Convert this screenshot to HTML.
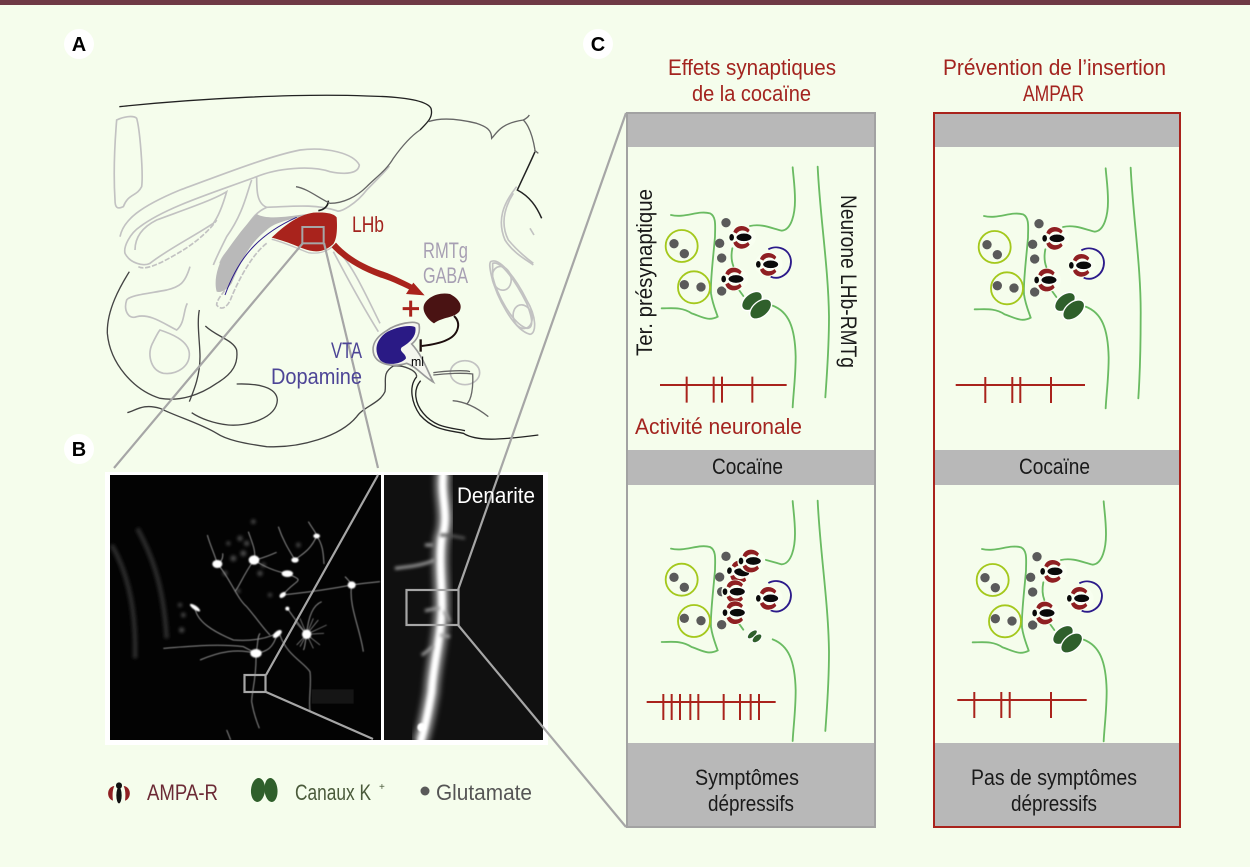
<!DOCTYPE html>
<html><head><meta charset="utf-8"><style>
html,body{margin:0;padding:0;background:#f5fdec;width:1250px;height:867px;overflow:hidden}
svg{display:block}
text{font-family:"Liberation Sans",sans-serif}
</style></head><body>
<svg width="1250" height="867" viewBox="0 0 1250 867" xmlns="http://www.w3.org/2000/svg">
<defs>
<filter id="b0" x="-20%" y="-20%" width="140%" height="140%"><feGaussianBlur stdDeviation="1.3"/></filter>
<filter id="b1" x="-50%" y="-50%" width="200%" height="200%"><feGaussianBlur stdDeviation="2.5"/></filter>
<filter id="b2" x="-30%" y="-30%" width="160%" height="160%"><feGaussianBlur stdDeviation="5"/></filter>
<filter id="b3" x="-30%" y="-10%" width="160%" height="120%"><feGaussianBlur stdDeviation="9"/></filter>
<clipPath id="cl"><rect x="110" y="475" width="271" height="265"/></clipPath>
<clipPath id="cr"><rect x="384" y="475" width="159" height="265"/></clipPath>
<g id="ampa">
 <ellipse cx="-6" cy="0" rx="42" ry="36" fill="#f8fff0"/>
 <path d="M-32,-16C-26,-38 4,-40 17,-22L12,-14C2,-23-14,-23-22,-11Z" fill="#8f1f22"/>
 <path d="M-32,16C-26,38 4,40 17,22L12,14C2,23-14,23-22,11Z" fill="#8f1f22"/>
 <ellipse cx="0" cy="0" rx="24" ry="13" fill="#0a0a0a" stroke="#fff" stroke-width="3"/>
 <ellipse cx="-37" cy="0" rx="7" ry="10" fill="#0a0a0a"/>
</g>
<g id="k">
 <ellipse cx="0" cy="0" rx="36" ry="22" transform="rotate(-40)" fill="#2f5f2b" stroke="#fff" stroke-width="4"/>
 <ellipse cx="26" cy="24" rx="38" ry="23" transform="rotate(-40 26 24)" fill="#2f5f2b" stroke="#fff" stroke-width="4"/>
</g>
<g id="syn" fill="none">
 <g stroke="#6abb62" stroke-width="5.500" stroke-linecap="round">
 <path d="M138,195C180,205 220,180 255,190C275,200 270,230 270,260C265,320 255,400 258,430C262,460 275,490 278,500C250,515 230,500 200,490C170,470 140,475 110,475"/>
 <path d="M375,228C410,220 440,235 470,242C500,240 510,190 510,150C510,110 505,80 503,52"/>
 <path d="M322,295C318,315 320,335 325,348"/>
 <path d="M342,420L355,438"/>
 <path d="M443,467C490,485 510,530 512,620C512,680 505,730 503,772"/>
 </g>
 <circle cx="170" cy="288" r="48" stroke="#a4c81c" stroke-width="5.500"/>
 <circle cx="207" cy="412" r="48" stroke="#a4c81c" stroke-width="5.500"/>
 <g fill="#5a5a5a">
 <circle cx="147" cy="281" r="14"/><circle cx="178" cy="311" r="14"/>
 <circle cx="178" cy="404" r="14"/><circle cx="228" cy="411" r="14"/>
 <circle cx="303" cy="218" r="14"/><circle cx="284" cy="280" r="14"/>
 <circle cx="290" cy="324" r="14"/><circle cx="290" cy="423" r="14"/>
 </g>
 <path d="M430,298C460,282 497,300 498,335C497,370 465,392 437,380" stroke="#2b1a8a" stroke-width="5.500"/>
</g>
</defs>

<rect width="1250" height="867" fill="#f5fdec"/>
<rect width="1250" height="5" fill="#6f3a45"/>

<!-- A diagram -->
<g transform="translate(100,90) scale(.33333)" fill="none">
 <g stroke="#c2c2c2" stroke-width="5">
 <path d="M50,90C70,80 100,75 110,85C120,120 130,250 125,290C110,320 85,310 70,350C50,360 45,350 45,330C40,250 45,150 50,90Z"/>
 <path d="M60,440C70,390 120,350 240,300C350,260 500,200 600,180C680,170 760,190 778,225C775,250 740,255 690,245C630,225 530,235 470,260C350,305 200,350 120,410C90,430 70,470 75,490C90,520 130,530 150,520C200,480 280,440 340,400C355,380 370,340 380,305C340,330 250,360 170,390C130,410 105,440 105,480"/>
 <path d="M470,260C470,300 470,340 500,352C470,365 460,380 425,430C400,470 370,490 360,520"/>
 <path d="M455,270C440,310 430,370 380,440C365,470 350,500 340,525"/>
 <path d="M500,352C570,350 640,340 710,362C720,370 770,340 800,300C830,270 860,240 868,228"/>
 <path d="M115,530C140,545 200,510 250,480C290,455 330,420 350,390" stroke-dasharray="16 5"/>
 <path d="M500,460C460,490 420,560 395,620C385,650 365,665 350,645C350,630 365,615 375,600" stroke-dasharray="16 5"/>
 <path d="M270,530C255,580 240,590 200,600C150,610 90,615 80,630C70,660 85,690 110,680C150,670 190,700 230,720C255,700 250,660 262,640"/>
 <path d="M180,720C210,730 265,750 268,790C270,830 230,855 190,850C150,840 140,790 160,755C170,735 175,725 180,720Z"/>
 <path d="M700,485C730,540 770,620 835,725"/>
 <path d="M720,490C760,530 800,620 840,700"/>
 <path d="M1250,290C1210,340 1190,390 1215,450C1240,490 1280,510 1300,525"/>
 <path d="M1240,310C1215,350 1200,400 1225,450C1250,480 1280,505 1300,520"/>
 <path d="M1172,515C1200,500 1250,570 1280,630C1310,680 1310,730 1290,733C1240,720 1190,620 1175,560C1168,530 1168,520 1172,515Z"/>
 <path d="M1178,520C1205,510 1250,580 1280,640C1300,690 1300,715 1280,715C1235,700 1190,610 1178,560Z"/>
 <ellipse cx="1205" cy="565" rx="28" ry="36" transform="rotate(-15 1205 565)"/>
 <ellipse cx="1268" cy="680" rx="28" ry="36" transform="rotate(-15 1268 680)"/>
 <path d="M1290,415L1302,435"/>
 <ellipse cx="1095" cy="848" rx="44" ry="36"/>
 </g>
 <path d="M470,372C500,390 560,380 620,372L600,382C560,390 520,400 500,420C450,460 430,500 395,580C385,595 365,610 350,605C340,570 355,520 375,490C410,440 440,400 470,372Z" fill="#b9b9b9"/>
 <g stroke="#444" stroke-width="4">
 <path d="M88,545C60,590 20,660 22,730C30,820 100,900 180,925C240,935 300,915 350,880C400,850 415,820 410,780C400,750 350,740 316,708"/>
 <path d="M298,660C290,700 300,760 300,800C300,860 280,905 268,935"/>
 <path d="M410,882C470,880 530,890 532,930C530,985 440,1010 385,1005C340,1000 300,985 275,968"/>
 <path d="M82,968C110,960 130,940 180,955C230,980 300,1000 350,1030C380,1050 430,1060 500,1070C600,1075 720,1040 770,980C790,950 840,940 855,905C860,870 845,850 880,828C910,825 950,840 950,860"/>
 </g>
 <g stroke="#222" stroke-width="4">
 <path d="M58,50C300,25 600,10 800,18C900,20 980,30 993,55C1000,80 985,95 960,120"/>
 <path d="M1305,185C1290,220 1270,260 1252,300C1290,320 1310,350 1325,385" stroke-width="4.500"/>
 <path d="M685,332C685,350 670,360 655,362" stroke-width="5"/>
 <path d="M950,860C925,890 935,940 960,975C1000,1020 1040,1020 1090,1030C1130,1055 1200,1050 1315,1035"/>
 <path d="M962,872C938,900 945,940 970,970C1005,1012 1045,1012 1095,1022"/>
 </g>
 <g stroke="#666" stroke-width="4">
 <path d="M960,120C930,140 905,170 880,205C860,240 830,260 800,290C770,320 730,340 690,340C650,320 620,295 588,290"/>
 <path d="M985,95C1030,80 1090,90 1130,100C1160,110 1175,120 1175,145C1190,130 1200,100 1270,90C1280,85 1285,80 1288,75M1270,90C1290,110 1300,150 1305,180M1303,180L1315,190"/>
 <path d="M1000,855C1040,850 1090,848 1118,852C1120,890 1115,930 1100,942M1000,848C1040,842 1100,840 1110,845M1058,932C1100,935 1140,960 1165,980"/>
 </g>
 <path d="M375,615C410,520 460,440 590,382" stroke="#2b1a8a" stroke-width="3"/>
 <path d="M515,443C545,415 590,375 640,368C670,366 700,368 710,382C712,410 712,445 700,462C680,480 660,488 630,482C600,475 580,460 515,443Z" fill="#a9231c"/>
 <path d="M515,448C550,456 590,475 625,488C650,492 680,488 703,465" stroke="#c4c4c4" stroke-width="4"/>
 <path d="M695,472L708,458C740,495 790,525 850,545C885,558 920,575 950,592L943,606C910,590 880,575 840,562C780,540 730,510 695,472Z" fill="#a9231c"/>
 <path d="M940,578L974,616L918,612Z" fill="#a9231c"/>
 <path d="M908,656H957M932,632V680" stroke="#a9231c" stroke-width="9"/>
 <path d="M972,645C980,625 1010,605 1050,612C1075,625 1090,645 1078,665C1060,685 1030,680 1002,700C985,690 965,665 972,645Z" fill="#4a1313"/>
 <path d="M1062,678C1085,700 1075,735 1040,750C1020,760 990,765 965,768" stroke="#1d0d0d" stroke-width="6"/>
 <path d="M962,748V785" stroke="#1d0d0d" stroke-width="7"/>
 <path d="M860,722C890,700 945,690 957,703C962,730 950,750 935,762C970,800 985,850 1000,876C970,860 950,830 920,820C880,832 835,825 822,795C812,765 830,740 860,722Z" fill="#f4f6ee" stroke="#999" stroke-width="5"/>
 <path d="M855,730C880,712 935,702 946,712C950,735 935,755 905,772C895,785 918,790 918,805C905,822 860,830 840,810C820,780 830,750 855,730Z" fill="#2a1a85"/>
 <rect x="607" y="411" width="64" height="49" stroke="#a6a6a6" stroke-width="6"/>
</g>

<!-- B image -->
<rect x="105" y="472" width="443" height="273" fill="#fff"/>
<rect x="110" y="475" width="271" height="265" fill="#030303"/>
<rect x="384" y="475" width="159" height="265" fill="#101010"/>
<g clip-path="url(#cl)"><g transform="translate(100,465) scale(.33333)" fill="none">
 <g stroke="#2c2c2c" stroke-width="14" filter="url(#b2)"><path d="M35,240C70,300 110,400 105,580"/><path d="M112,190C150,260 190,350 200,520"/></g>
 <g fill="#4a4a4a" filter="url(#b2)"><circle cx="430" cy="265" r="9"/><circle cx="400" cy="280" r="9"/><circle cx="420" cy="220" r="8"/><circle cx="480" cy="325" r="8"/><circle cx="460" cy="170" r="7"/><circle cx="595" cy="240" r="7"/><circle cx="385" cy="235" r="6"/><circle cx="250" cy="450" r="7"/><circle cx="240" cy="420" r="6"/><circle cx="440" cy="235" r="8"/><circle cx="490" cy="300" r="7"/><circle cx="375" cy="325" r="7"/><circle cx="415" cy="378" r="6"/><circle cx="510" cy="390" r="6"/><circle cx="245" cy="495" r="8"/></g>
 <g stroke="#8c8c8c" stroke-width="3" filter="url(#b0)">
 <path d="M322,210C330,240 345,270 352,297M352,297C365,290 370,280 368,265M352,297C385,330 410,400 440,425C470,460 490,490 510,510"/>
 <path d="M445,200C455,230 470,260 462,285M462,285C430,330 420,360 405,380M462,285C490,280 510,270 530,262M462,285C500,310 530,320 562,326"/>
 <path d="M535,185C550,230 570,260 585,285M585,285C600,270 630,260 650,213M625,170C640,195 650,205 650,213M650,213C670,240 670,270 672,297"/>
 <path d="M562,326C620,350 590,340 548,390M548,390C590,385 650,380 755,360M735,335C745,345 750,350 755,360M755,360C790,355 820,352 840,350M755,360C745,420 780,490 790,560"/>
 <path d="M562,430C590,470 605,490 620,508M620,508C625,450 640,420 665,410M620,508C615,530 615,550 610,555"/>
 <path d="M285,428C290,470 340,500 400,525C440,528 490,525 532,505"/>
 <path d="M190,550C260,545 350,535 430,545L468,565C500,560 520,550 532,505M300,585C360,560 410,550 468,565"/>
 <path d="M468,565C475,530 472,515 480,505M468,565C470,640 455,680 455,710C460,740 470,770 478,790"/>
 <path d="M540,510C560,570 610,590 630,620C635,660 625,700 630,740"/>
 <path d="M380,795L392,825"/>
 </g>
 <g stroke="#999" stroke-width="2" filter="url(#b0)"><path d="M620,508L585,470M620,508L655,465M620,508L590,540M620,508L660,540M620,508L672,505M620,508L640,460M620,508L600,460M620,508L640,550M620,508L600,545M620,508L680,480"/></g>
 <g fill="#fff" filter="url(#b1)">
 <ellipse cx="352" cy="297" rx="15" ry="12"/><ellipse cx="462" cy="285" rx="16" ry="14"/><ellipse cx="585" cy="285" rx="11" ry="8"/>
 <ellipse cx="562" cy="326" rx="17" ry="10"/><ellipse cx="650" cy="213" rx="10" ry="7"/><ellipse cx="755" cy="360" rx="12" ry="11"/>
 <ellipse cx="548" cy="390" rx="11" ry="7" transform="rotate(-40 548 390)"/><ellipse cx="285" cy="428" rx="18" ry="6" transform="rotate(35 285 428)"/>
 <circle cx="562" cy="431" r="6"/><ellipse cx="532" cy="507" rx="16" ry="8" transform="rotate(-40 532 507)"/><ellipse cx="468" cy="565" rx="17" ry="13"/><circle cx="620" cy="508" r="14"/>
 </g>
 <rect x="635" y="673" width="126" height="43" fill="#151515"/>
</g></g>
<g clip-path="url(#cr)"><g transform="translate(100,465) scale(.33333)" fill="none">
 <path d="M1030,20C1020,100 1050,150 1025,220C1015,300 1030,380 1025,450C1020,530 1000,600 995,680C985,740 975,790 960,835" stroke="#8a8a8a" stroke-width="48" filter="url(#b3)"/>
 <path d="M1030,20C1020,100 1050,150 1025,220C1015,300 1030,380 1025,450C1020,530 1000,600 995,680C985,740 975,790 960,835" stroke="#fff" stroke-width="22" filter="url(#b2)"/>
 <g stroke="#a0a0a0" stroke-width="9" filter="url(#b2)"><path d="M1005,285C970,300 930,305 885,310"/><path d="M1020,210C1050,210 1070,215 1095,220" stroke="#555"/><path d="M1020,430C1000,430 990,435 975,437"/><path d="M1030,440C1045,450 1045,465 1050,470"/><path d="M1000,545C985,555 975,565 965,570"/><path d="M1020,510L1050,515"/><path d="M1000,240L975,240"/></g>
 <circle cx="965" cy="787" r="13" fill="#fff" filter="url(#b1)"/>
</g></g>

<!-- Gray zoom lines -->
<g stroke="#a6a6a6" stroke-width="2.200" fill="none">
 <path d="M303,243L114,468"/>
 <path d="M324,243L378,468"/>
 <rect x="244.500" y="675" width="21" height="17"/>
 <path d="M266,675L378,475M266,692L373,739"/>
 <rect x="406.500" y="590" width="52" height="35"/>
 <path d="M458,590L626,113"/>
 <path d="M458,625L626,827"/>
</g>

<!-- Panels -->
<rect x="627" y="113" width="248" height="714" fill="#f5fdec" stroke="#a2a2a2" stroke-width="2"/>
<rect x="628" y="114" width="246" height="33" fill="#b8b8b8"/>
<rect x="628" y="450" width="246" height="35" fill="#b8b8b8"/>
<rect x="628" y="743" width="246" height="83" fill="#b8b8b8"/>
<rect x="934" y="113" width="246" height="714" fill="#f5fdec"/>
<rect x="935" y="114" width="244" height="33" fill="#b8b8b8"/>
<rect x="935" y="450" width="244" height="35" fill="#b8b8b8"/>
<rect x="935" y="743" width="244" height="83" fill="#b8b8b8"/>
<rect x="934" y="113" width="246" height="714" fill="none" stroke="#a9231c" stroke-width="2"/>

<!-- Panel C1 top -->
<g transform="translate(625,150) scale(.33333)">
 <use href="#syn"/>
 <use href="#ampa" x="357" y="262"/><use href="#ampa" x="333" y="387"/><use href="#ampa" x="437" y="343"/>
 <use href="#k" x="381" y="453"/>
 <path d="M578,50C585,200 610,350 612,500C612,600 605,680 601,742" fill="none" stroke="#6abb62" stroke-width="5.500" stroke-linecap="round"/>
 <path d="M105,705H485M185,680V758M266,680V758M291,680V758M382,680V758" stroke="#a9231c" stroke-width="6" fill="none"/>
</g>
<!-- Panel C1 bottom -->
<g transform="translate(625,485) scale(.33333)">
 <g transform="translate(0,-4)"><use href="#syn"/></g>
 <use href="#ampa" x="350" y="262" transform="rotate(8 350 262)"/>
 <use href="#ampa" x="385" y="228"/>
 <use href="#ampa" x="337" y="320"/><use href="#ampa" x="337" y="383"/><use href="#ampa" x="437" y="340"/>
 <ellipse cx="382" cy="448" rx="18" ry="9" transform="rotate(-40 382 448)" fill="#2f5f2b" stroke="#fff" stroke-width="3"/>
 <ellipse cx="396" cy="460" rx="17" ry="10" transform="rotate(-40 396 460)" fill="#2f5f2b" stroke="#fff" stroke-width="3"/>
 <path d="M578,47C585,200 610,350 612,500C612,600 605,680 601,738" fill="none" stroke="#6abb62" stroke-width="5.500" stroke-linecap="round"/>
 <path d="M65,651H452M115,627V705M140,627V705M165,627V705M196,627V705M220,627V705M296,627V705M345,627V705M377,627V705M402,627V705" stroke="#a9231c" stroke-width="6" fill="none"/>
</g>
<!-- Panel C2 top -->
<g transform="translate(938,151) scale(.33333)">
 <use href="#syn"/>
 <use href="#ampa" x="357" y="262"/><use href="#ampa" x="333" y="387"/><use href="#ampa" x="437" y="343"/>
 <use href="#k" x="381" y="453"/>
 <path d="M578,50C585,200 610,350 608,500C608,600 605,680 601,742" fill="none" stroke="#6abb62" stroke-width="5.500" stroke-linecap="round"/>
</g>
<path d="M955.700,385H1085M985.300,377V403M1012.300,377V403M1020.300,377V403M1051,377V403" stroke="#a9231c" stroke-width="2" fill="none"/>
<!-- Panel C2 bottom -->
<g transform="translate(936,484) scale(.33333)">
 <use href="#syn"/>
 <use href="#ampa" x="357" y="262"/><use href="#ampa" x="333" y="387"/><use href="#ampa" x="437" y="343"/>
 <use href="#k" x="381" y="453"/>
</g>
<path d="M957.300,700H1086.700M974.300,692V718M1001.300,692V718M1009.700,692V718M1051,692V718" stroke="#a9231c" stroke-width="2" fill="none"/>

<!-- Legend -->
<g transform="translate(119,792) scale(.33333)"><ellipse cx="0" cy="-19" rx="9" ry="10" fill="#111"/><ellipse cx="0" cy="10" rx="8" ry="24" fill="#111"/><path d="M-14,-18C-38,-15-38,20-18,26C-20,10-20,-5-14,-18Z" fill="#8f1f22"/><path d="M14,-18C38,-15 38,20 18,26C20,10 20,-5 14,-18Z" fill="#8f1f22"/></g>
<ellipse cx="258" cy="790" rx="7" ry="12" transform="rotate(5 258 790)" fill="#2f5f2b"/>
<ellipse cx="271" cy="790" rx="6.500" ry="12" transform="rotate(-5 271 790)" fill="#2f5f2b"/>
<circle cx="425" cy="791" r="4.500" fill="#5a5a5a"/>

<!-- Labels -->
<circle cx="79" cy="44" r="15" fill="#fff"/><text x="79" y="51" text-anchor="middle" font-size="20" font-weight="700" fill="#000">A</text>
<circle cx="79" cy="449" r="15" fill="#fff"/><text x="79" y="456" text-anchor="middle" font-size="20" font-weight="700" fill="#000">B</text>
<circle cx="598" cy="44" r="15" fill="#fff"/><text x="598" y="51" text-anchor="middle" font-size="20" font-weight="700" fill="#000">C</text>

<g font-size="22" fill="#a3241f">
<text x="668" y="75" textLength="168" lengthAdjust="spacingAndGlyphs">Effets synaptiques</text>
<text x="692" y="101" textLength="119" lengthAdjust="spacingAndGlyphs">de la cocaïne</text>
<text x="943" y="75" textLength="223" lengthAdjust="spacingAndGlyphs">Prévention de l’insertion</text>
<text x="1023" y="101" textLength="61" lengthAdjust="spacingAndGlyphs">AMPAR</text>
<text x="635" y="434" textLength="167" lengthAdjust="spacingAndGlyphs">Activité neuronale</text>
<text x="352" y="232" textLength="32" lengthAdjust="spacingAndGlyphs">LHb</text>
</g>
<g font-size="22" fill="#1a1a1a">
<text x="712" y="474" textLength="71" lengthAdjust="spacingAndGlyphs">Cocaïne</text>
<text x="1019" y="474" textLength="71" lengthAdjust="spacingAndGlyphs">Cocaïne</text>
<text x="695" y="785" textLength="104" lengthAdjust="spacingAndGlyphs">Symptômes</text>
<text x="708" y="811" textLength="86" lengthAdjust="spacingAndGlyphs">dépressifs</text>
<text x="971" y="785" textLength="166" lengthAdjust="spacingAndGlyphs">Pas de symptômes</text>
<text x="1011" y="811" textLength="86" lengthAdjust="spacingAndGlyphs">dépressifs</text>
<text transform="translate(652,356) rotate(-90)" textLength="167" lengthAdjust="spacingAndGlyphs">Ter. présynaptique</text>
<text transform="translate(841,195) rotate(90)" textLength="173" lengthAdjust="spacingAndGlyphs">Neurone LHb-RMTg</text>
</g>
<g font-size="22" fill="#a79fb3">
<text x="423" y="258" textLength="45" lengthAdjust="spacingAndGlyphs">RMTg</text>
<text x="423" y="283" textLength="45" lengthAdjust="spacingAndGlyphs">GABA</text>
</g>
<g font-size="22" fill="#4d4596">
<text x="331" y="358" textLength="31" lengthAdjust="spacingAndGlyphs">VTA</text>
<text x="271" y="384" textLength="91" lengthAdjust="spacingAndGlyphs">Dopamine</text>
</g>
<text x="411" y="366" font-size="13" fill="#000" textLength="13" lengthAdjust="spacingAndGlyphs">ml</text>
<text x="457" y="503" font-size="22" fill="#fff" textLength="78" lengthAdjust="spacingAndGlyphs">Denarite</text>
<text x="147" y="800" font-size="22" fill="#6b2a35" textLength="71" lengthAdjust="spacingAndGlyphs">AMPA-R</text>
<text x="295" y="800" font-size="22" fill="#4a5a3a" textLength="76" lengthAdjust="spacingAndGlyphs">Canaux K</text>
<text x="379" y="790" font-size="10" fill="#4a5a3a">+</text>
<text x="436" y="800" font-size="22" fill="#555" textLength="96" lengthAdjust="spacingAndGlyphs">Glutamate</text>
</svg>
</body></html>
